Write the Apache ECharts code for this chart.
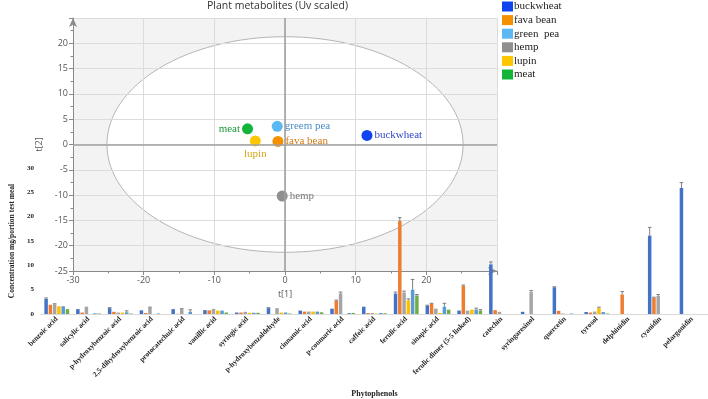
<!DOCTYPE html>
<html>
<head>
<meta charset="utf-8">
<script src="https://cdn.jsdelivr.net/npm/echarts@6/dist/echarts.min.js"></script>
<style>
  html, body { margin: 0; padding: 0; background: #fff; }
  #main { width: 708px; height: 399px; }
</style>
</head>
<body>
<div id="main"></div>
<script>
// PCA score plot
const pcaNames = ["buckwheat", "fava bean", "green  pea", "hemp", "lupin", "meat"];
const pcaLabels = ["buckwheat", "fava bean", "greem pea", "hemp", "lupin", "meat"];
const pcaT1 = [11.6, -1.0, -1.1, -0.4, -4.2, -5.3];
const pcaT2 = [1.8, 0.6, 3.6, -10.2, 0.7, 3.1];
const ellipseRadii = [25.2, 21.3]; // Hotelling T2 ellipse, t[1] and t[2]

// phytophenol concentrations, mg/portion test meal
const phenols = [
  "benzoic acid", "salicylic acid", "p-hydroxybenzoic acid", "2,5-dihydroxybenzoic acid",
  "protocatechuic acid", "vanillic acid", "syringic acid", "p-hydroxybenzaldehyde",
  "cinnamic acid", "p-coumaric acid", "caffeic acid", "ferulic acid", "sinapic acid",
  "ferulic dimer (5-5 linked)", "catechin", "syringaresinol", "quercetin", "tyrosol",
  "delphinidin", "cyanidin", "pelargonidin"
];
const barNames = ["buckwheat", "fava bean", "hemp", "lupin", "green pea", "meat"];
const buckwheat = [3.1, 1.0, 1.2, 0.75, 1.0, 0.8, 0.3, 1.2, 0.7, 1.1, 1.5, 4.2, 1.7, 0.7, 10.2, 0.45, 5.5, 0.4, 0, 16.1, 25.9];
const favaBean  = [1.9, 0.3, 0.45, 0.2, 0.05, 0.75, 0.3, 0, 0.5, 2.7, 0.2, 19.1, 2.1, 5.8, 0.8, 0, 0.65, 0.3, 4.0, 3.3, 0];
const hemp      = [2.0, 1.5, 0.3, 1.3, 1.0, 1.05, 0.45, 1.2, 0.5, 4.2, 0.2, 4.4, 1.1, 0.7, 0.45, 4.5, 0.1, 0.5, 0, 3.7, 0];
const lupin     = [1.6, 0, 0.3, 0, 0, 0.7, 0.25, 0.3, 0.5, 0, 0.1, 2.8, 0.2, 0.9, 0, 0, 0, 1.2, 0, 0, 0];
const greenPea  = [1.6, 0.15, 0.35, 0.1, 0.45, 0.7, 0.25, 0.3, 0.5, 0.2, 0.2, 5.0, 1.5, 0.9, 0, 0, 0.1, 0.4, 0, 0, 0];
const meat      = [1.0, 0.1, 0.1, 0, 0, 0.3, 0.25, 0.1, 0.35, 0.2, 0.15, 3.8, 0.9, 0.7, 0, 0, 0, 0.1, 0, 0, 0];
// standard deviations (only the visible ones)
const buckwheatErr = [0.2, 0, 0.1, 0, 0, 0, 0, 0.1, 0, 0, 0, 0.3, 0.1, 0, 0.5, 0, 0.1, 0, 0, 1.7, 1.1];
const favaBeanErr  = [0, 0, 0, 0, 0, 0, 0, 0, 0, 0.15, 0, 0.7, 0.1, 0.15, 0, 0, 0, 0, 0.6, 0.15, 0];
const hempErr      = [0.1, 0, 0, 0.1, 0.1, 0, 0, 0, 0, 0.3, 0, 0.3, 0, 0, 0, 0.3, 0, 0, 0, 0.3, 0];
const lupinErr     = [0, 0, 0, 0, 0, 0, 0, 0, 0, 0, 0, 0.3, 0, 0, 0, 0, 0, 0.2, 0, 0, 0];
const greenPeaErr  = [0, 0, 0.3, 0, 0.4, 0, 0, 0, 0, 0, 0, 2.1, 0.7, 0.3, 0, 0, 0, 0, 0, 0, 0];
const meatErr      = [0, 0, 0, 0, 0, 0, 0, 0, 0, 0, 0, 0.2, 0, 0.2, 0, 0, 0, 0, 0, 0, 0];

const pcaColors = ["#1144ee", "#f59000", "#5ab8f5", "#8f8f8f", "#fcc600", "#12b43a"];
const pcaLabelColors = ["#2b47c8", "#d07a10", "#4a8cc8", "#7a7a7a", "#d9a51a", "#1a9a3a"];
const pcaLabelPos = ["right", "right", "right", "right", "bottom", "left"];
const barColors = ["#4472c4", "#ed7d31", "#a5a5a5", "#ffc000", "#5b9bd5", "#70ad47"];

const barValues = [buckwheat, favaBean, hemp, lupin, greenPea, meat];
const barErrors = [buckwheatErr, favaBeanErr, hempErr, lupinErr, greenPeaErr, meatErr];
const BAR_W = 3.5;
const BAR_GAP = 0.22;

const chart = echarts.init(document.getElementById("main"));

const serif = "'Liberation Serif', 'Times New Roman', serif";
const sans = "'Open Sans', 'Noto Sans', sans-serif";

const scatterSeries = pcaNames.map((name, i) => ({
  name: name,
  type: "scatter",
  xAxisIndex: 0,
  yAxisIndex: 0,
  symbolSize: 11,
  data: [[pcaT1[i], pcaT2[i]]],
  itemStyle: { color: pcaColors[i], opacity: 1 },
  label: {
    show: true,
    formatter: pcaLabels[i],
    position: pcaLabelPos[i],
    distance: 2,
    color: pcaLabelColors[i],
    fontFamily: serif,
    fontSize: 11,
  },
  markLine: i === 0 ? {
    silent: true,
    symbol: "none",
    label: { show: false },
    lineStyle: { color: "#a0a0a0", width: 1.6, type: "solid" },
    data: [{ xAxis: 0 }, { yAxis: 0 }],
  } : undefined,
}));

const errData = [];
barErrors.forEach((errs, k) => {
  errs.forEach((e, c) => {
    if (e > 0) errData.push([c, barValues[k][c], e, k]);
  });
});

const option = {
  animation: false,
  title: {
    text: "Plant metabolites (Uv scaled)",
    left: 207,
    top: 1,
    padding: 0,
    textStyle: { fontFamily: sans, fontSize: 10.5, fontWeight: "normal", color: "#333" },
  },
  legend: {
    data: pcaNames,
    orient: "vertical",
    left: 502,
    top: 1,
    padding: 0,
    icon: "rect",
    itemWidth: 11,
    itemHeight: 10,
    itemGap: 2.6,
    textStyle: { fontFamily: serif, fontSize: 11, color: "#222", lineHeight: 10, padding: [0, 0, 0, -4] },
  },
  grid: [
    { left: 73, top: 18, width: 424, height: 253 },
    { left: 29, top: 168, right: 0, height: 150 },
  ],
  xAxis: [
    {
      gridIndex: 0,
      type: "value",
      min: -30,
      max: 30,
      interval: 10,
      name: "t[1]",
      nameLocation: "middle",
      nameGap: 19,
      nameTextStyle: { fontFamily: sans, fontSize: 9, color: "#555" },
      axisLine: { lineStyle: { color: "#8a8a8a" }, symbol: ["none", "arrow"], symbolSize: [6, 9], onZero: false },
      axisTick: { show: true, length: 4, lineStyle: { color: "#8a8a8a" } },
      minorTick: { show: true, splitNumber: 2, length: 2.5, lineStyle: { color: "#8a8a8a" } },
      axisLabel: { fontFamily: sans, fontSize: 9, color: "#555", margin: 5, showMaxLabel: false },
      splitLine: { show: true, lineStyle: { color: "#dcdcdc" } },
    },
    {
      gridIndex: 1,
      type: "category",
      data: phenols,
      name: "Phytophenols",
      nameLocation: "middle",
      nameGap: 76,
      nameTextStyle: { fontFamily: serif, fontSize: 8, fontWeight: "bold", color: "#222" },
      axisLine: { lineStyle: { color: "#d9d9d9" } },
      axisTick: { show: false },
      axisLabel: { interval: 0, rotate: 45, margin: 4, fontFamily: serif, fontSize: 7.3, fontWeight: "bold", color: "#222" },
      splitLine: { show: false },
    },
  ],
  yAxis: [
    {
      gridIndex: 0,
      type: "value",
      min: -25,
      max: 25,
      interval: 5,
      name: "t[2]",
      nameLocation: "middle",
      nameGap: 19,
      nameTextStyle: { fontFamily: sans, fontSize: 9, color: "#555" },
      axisLine: { show: true, lineStyle: { color: "#8a8a8a" }, symbol: ["none", "arrow"], symbolSize: [6, 9], onZero: false },
      axisTick: { show: true, length: 4, lineStyle: { color: "#8a8a8a" } },
      minorTick: { show: true, splitNumber: 2, length: 2.5, lineStyle: { color: "#8a8a8a" } },
      axisLabel: { fontFamily: sans, fontSize: 9, color: "#555", margin: 5, showMaxLabel: false },
      splitLine: { show: true, lineStyle: { color: "#dcdcdc" } },
    },
    {
      gridIndex: 1,
      type: "value",
      min: 0,
      max: 30,
      interval: 5,
      name: "Concentration mg/portion test meal",
      nameLocation: "middle",
      nameGap: 21,
      nameTextStyle: { fontFamily: serif, fontSize: 7.5, fontWeight: "bold", color: "#222" },
      axisLine: { show: false },
      axisTick: { show: false },
      axisLabel: { fontFamily: serif, fontSize: 7, fontWeight: "bold", color: "#222", margin: 7 },
      splitLine: { show: false },
    },
  ],
  series: [
    {
      type: "custom",
      name: "ellipse",
      xAxisIndex: 0,
      yAxisIndex: 0,
      z: -1,
      silent: true,
      data: [[0, 0, ellipseRadii[0], ellipseRadii[1]]],
      encode: { x: 0, y: 1 },
      renderItem: function (params, api) {
        const cs = params.coordSys;
        const c = api.coord([api.value(0), api.value(1)]);
        const r = api.size([api.value(2), api.value(3)]);
        return {
          type: "group",
          children: [
            { type: "rect", shape: { x: cs.x, y: cs.y, width: cs.width, height: cs.height }, style: { fill: "#f3f3f3" } },
            { type: "ellipse", shape: { cx: c[0], cy: c[1], rx: r[0], ry: r[1] }, style: { fill: "#fff", stroke: "#b5b5b5", lineWidth: 1 } },
          ],
        };
      },
    },
    ...scatterSeries,
    ...barNames.map((name, k) => ({
      name: name + " (mg)",
      type: "bar",
      xAxisIndex: 1,
      yAxisIndex: 1,
      barWidth: BAR_W,
      barGap: (BAR_GAP * 100) + "%",
      data: barValues[k],
      itemStyle: { color: barColors[k] },
    })),
    {
      type: "custom",
      name: "sd",
      xAxisIndex: 1,
      yAxisIndex: 1,
      z: 3,
      silent: true,
      data: errData,
      encode: { x: 0, y: 1 },
      renderItem: function (params, api) {
        const k = api.value(3);
        const base = api.coord([api.value(0), api.value(1)]);
        const top = api.coord([api.value(0), api.value(1) + api.value(2)]);
        const x = base[0] + (k - 2.5) * BAR_W * (1 + BAR_GAP);
        const st = { stroke: "#7f7f7f", lineWidth: 1 };
        return {
          type: "group",
          children: [
            { type: "line", shape: { x1: x, y1: base[1], x2: x, y2: top[1] }, style: st },
            { type: "line", shape: { x1: x - 1.8, y1: top[1], x2: x + 1.8, y2: top[1] }, style: st },
          ],
        };
      },
    },
  ],
};

chart.setOption(option);
</script>
</body>
</html>
